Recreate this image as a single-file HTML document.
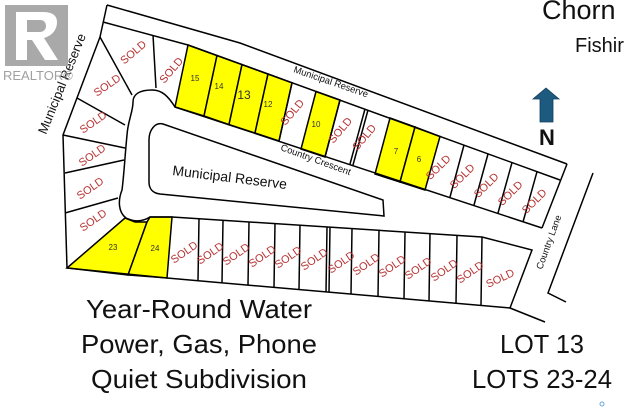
<!DOCTYPE html>
<html><head><meta charset="utf-8"><style>
html,body{margin:0;padding:0;background:#fff;}
svg{display:block;}
text{font-family:"Liberation Sans",Arial,sans-serif;}
.s{fill:#b83232;font-size:11px;}
.n{fill:#333;font-size:8px;}
</style></head><body>
<svg width="634" height="413" viewBox="0 0 634 413" xmlns="http://www.w3.org/2000/svg">
<rect width="634" height="413" fill="#fff"/>
<!-- yellow lots -->
<g fill="#ffff00" stroke="#000" stroke-width="1.5">
<polygon points="188,45 217,55.5 204,116 175,107"/>
<polygon points="217,55.5 242,64.6 229,124.6 204,116"/>
<polygon points="242,64.6 268,74 255,133 229,124.6"/>
<polygon points="268,74 292,82.8 279,141 255,133"/>
<polygon points="316,91.5 340,100 325,157 301,149"/>
<polygon points="390,118 415,127 400,182 375,174"/>
<polygon points="415,127 440,136.5 425,190 400,182"/>
<polygon points="67,268 125,218 135,222 147,222 128,275"/>
<polygon points="147,222 150,217 172,217 167,278 128,275"/>
</g>
<g fill="none" stroke="#000" stroke-width="1.5">
<!-- top strip -->
<polyline points="107,5 240,43 567,164"/>
<polyline points="103,22 188,45 560,180"/>
<line x1="107" y1="5" x2="100" y2="37"/>
<line x1="567" y1="164" x2="542" y2="228"/>
<!-- north row bottom -->
<line x1="175" y1="107" x2="542" y2="228"/>
<!-- dividers north -->
<line x1="292" y1="82.8" x2="279" y2="141"/>
<line x1="340" y1="100" x2="325" y2="157"/>
<line x1="365" y1="109" x2="350" y2="164"/>
<line x1="368" y1="110" x2="353" y2="165"/>
<line x1="464" y1="145" x2="450" y2="197"/>
<line x1="488" y1="154" x2="474" y2="205"/>
<line x1="512" y1="162.6" x2="498" y2="213"/>
<line x1="537" y1="171.7" x2="523" y2="222"/>
<!-- west outer -->
<polyline points="100,37 63,135 67,268 167,278 510,308"/>
<line x1="510" y1="308" x2="545" y2="322"/>
<!-- west lots -->
<line x1="100" y1="37" x2="132" y2="95"/>
<line x1="153" y1="35" x2="156" y2="88"/>
<line x1="77" y1="98" x2="125" y2="125"/>
<line x1="63" y1="135" x2="125" y2="148"/>
<line x1="65" y1="173" x2="124" y2="160"/>
<line x1="65" y1="213" x2="118" y2="198"/>
<!-- cul-de-sac boundary -->
<path d="M175,107 C168,96 162,90 152,90 C140,90 133,94 133,102 C133,112 128,120 127,135 C125,155 124,175 122,190 C118,200 118,212 126,218 C134,222 142,222 150,217 L172,217"/>
<!-- south row -->
<polyline points="172,217 482,237 532,250 510,308"/>
<g>
<line x1="199" y1="218.7" x2="198" y2="280.7"/>
<line x1="223" y1="220.3" x2="222" y2="282.8"/>
<line x1="249" y1="222" x2="248" y2="285"/>
<line x1="275" y1="223.6" x2="274" y2="287.4"/>
<line x1="300" y1="225.3" x2="299" y2="289.5"/>
<line x1="327" y1="227" x2="326" y2="292"/>
<line x1="330" y1="227.2" x2="329" y2="292.2"/>
<line x1="352" y1="228.6" x2="351" y2="294"/>
<line x1="379" y1="230.3" x2="378" y2="296.5"/>
<line x1="405" y1="232" x2="404" y2="298.8"/>
<line x1="430" y1="233.6" x2="429" y2="301"/>
<line x1="457" y1="235.4" x2="456" y2="303.3"/>
<line x1="482" y1="237" x2="481" y2="305.5"/>
</g>
<!-- island -->
<path d="M163,124 L383,200 L384,216 L160,194 C152,193 149,188 149,182 L149,140 C149,130 155,122 163,124 Z"/>
<!-- country lane -->
<polyline points="593,173 548,293 566,302"/>
</g>
<!-- SOLD labels -->
<g class="s">
<text transform="translate(133,52) rotate(-40)" text-anchor="middle" dy="4">SOLD</text>
<text transform="translate(171,70) rotate(-50)" text-anchor="middle" dy="4">SOLD</text>
<text transform="translate(107,85) rotate(-35)" text-anchor="middle" dy="4">SOLD</text>
<text transform="translate(93,122) rotate(-35)" text-anchor="middle" dy="4">SOLD</text>
<text transform="translate(92,155) rotate(-35)" text-anchor="middle" dy="4">SOLD</text>
<text transform="translate(90,188) rotate(-35)" text-anchor="middle" dy="4">SOLD</text>
<text transform="translate(93,220) rotate(-35)" text-anchor="middle" dy="4">SOLD</text>
<text transform="translate(292,112) rotate(-50)" text-anchor="middle" dy="4">SOLD</text>
<text transform="translate(340,130) rotate(-50)" text-anchor="middle" dy="4">SOLD</text>
<text transform="translate(364,137) rotate(-50)" text-anchor="middle" dy="4">SOLD</text>
<text transform="translate(438,167) rotate(-45)" text-anchor="middle" dy="4">SOLD</text>
<text transform="translate(462,176) rotate(-45)" text-anchor="middle" dy="4">SOLD</text>
<text transform="translate(486,185) rotate(-45)" text-anchor="middle" dy="4">SOLD</text>
<text transform="translate(510,193) rotate(-45)" text-anchor="middle" dy="4">SOLD</text>
<text transform="translate(534,201) rotate(-45)" text-anchor="middle" dy="4">SOLD</text>
<text transform="translate(184,252) rotate(-35)" text-anchor="middle" dy="4">SOLD</text>
<text transform="translate(210,253) rotate(-35)" text-anchor="middle" dy="4">SOLD</text>
<text transform="translate(236,254) rotate(-35)" text-anchor="middle" dy="4">SOLD</text>
<text transform="translate(262,256) rotate(-35)" text-anchor="middle" dy="4">SOLD</text>
<text transform="translate(288,257) rotate(-35)" text-anchor="middle" dy="4">SOLD</text>
<text transform="translate(314,259) rotate(-35)" text-anchor="middle" dy="4">SOLD</text>
<text transform="translate(341,262) rotate(-35)" text-anchor="middle" dy="4">SOLD</text>
<text transform="translate(366,264) rotate(-35)" text-anchor="middle" dy="4">SOLD</text>
<text transform="translate(392,266) rotate(-35)" text-anchor="middle" dy="4">SOLD</text>
<text transform="translate(418,268) rotate(-35)" text-anchor="middle" dy="4">SOLD</text>
<text transform="translate(444,270) rotate(-35)" text-anchor="middle" dy="4">SOLD</text>
<text transform="translate(470,272) rotate(-35)" text-anchor="middle" dy="4">SOLD</text>
<text transform="translate(500,278) rotate(-25)" text-anchor="middle" dy="4">SOLD</text>
</g>
<!-- lot numbers -->
<g class="n" text-anchor="middle">
<text x="195" y="81">15</text>
<text x="219" y="89">14</text>
<text x="244" y="99" style="font-size:12px">13</text>
<text x="268" y="107">12</text>
<text x="316" y="127">10</text>
<text x="396" y="154">7</text>
<text x="419" y="162">6</text>
<text x="113" y="250">23</text>
<text x="155" y="251">24</text>
</g>
<!-- road / reserve labels -->
<text transform="translate(46,135) rotate(-68)" font-size="13" fill="#111">Municipal Reserve</text>
<text transform="translate(293,72) rotate(19)" font-size="9.5" fill="#111">Municipal Reserve</text>
<text transform="translate(280,150) rotate(20)" font-size="9.5" fill="#111">Country Crescent</text>
<text transform="translate(172,175) rotate(7)" font-size="14" fill="#111">Municipal Reserve</text>
<text transform="translate(542,270) rotate(-70)" font-size="9.5" fill="#111">Country Lane</text>
<!-- REALTOR logo -->
<rect x="5" y="5" width="63" height="61" fill="#a9a9a9"/>
<path d="M16,12 L16,60 L27,60 L27,40 L32,40 L45,60 L58,60 L44,38 C54,35 57,28 57,22 C57,14 50,12 43,12 Z M27,20 L40,20 C45,20 46,24 46,26 C46,30 43,32 40,32 L27,32 Z" fill="#fff"/>
<text x="3" y="80" font-size="13" fill="#a0a0a0">REALTOR®</text>
<!-- title -->
<text x="542" y="19" font-size="27" fill="#111">Chorn</text>
<text x="575" y="52" font-size="20" fill="#111">Fishir</text>
<!-- north arrow -->
<polygon points="546,88 559,99 553,99 553,122 540,122 540,99 533,99" fill="#1d5a80" stroke="#123e5a" stroke-width="0.8"/>
<text x="547" y="145" font-size="22" font-weight="bold" text-anchor="middle" fill="#111">N</text>
<!-- bottom text -->
<g font-size="26" fill="#111" text-anchor="middle">
<text x="199" y="318" textLength="226" lengthAdjust="spacingAndGlyphs">Year-Round Water</text>
<text x="199" y="353" textLength="236" lengthAdjust="spacingAndGlyphs">Power, Gas, Phone</text>
<text x="199" y="388" textLength="216" lengthAdjust="spacingAndGlyphs">Quiet Subdivision</text>
<text x="542" y="353" textLength="84" lengthAdjust="spacingAndGlyphs">LOT 13</text>
<text x="542" y="388" textLength="140" lengthAdjust="spacingAndGlyphs">LOTS 23-24</text>
</g>
<circle cx="602" cy="404" r="2" fill="none" stroke="#6aa8d8" stroke-width="1"/>
</svg>
</body></html>
